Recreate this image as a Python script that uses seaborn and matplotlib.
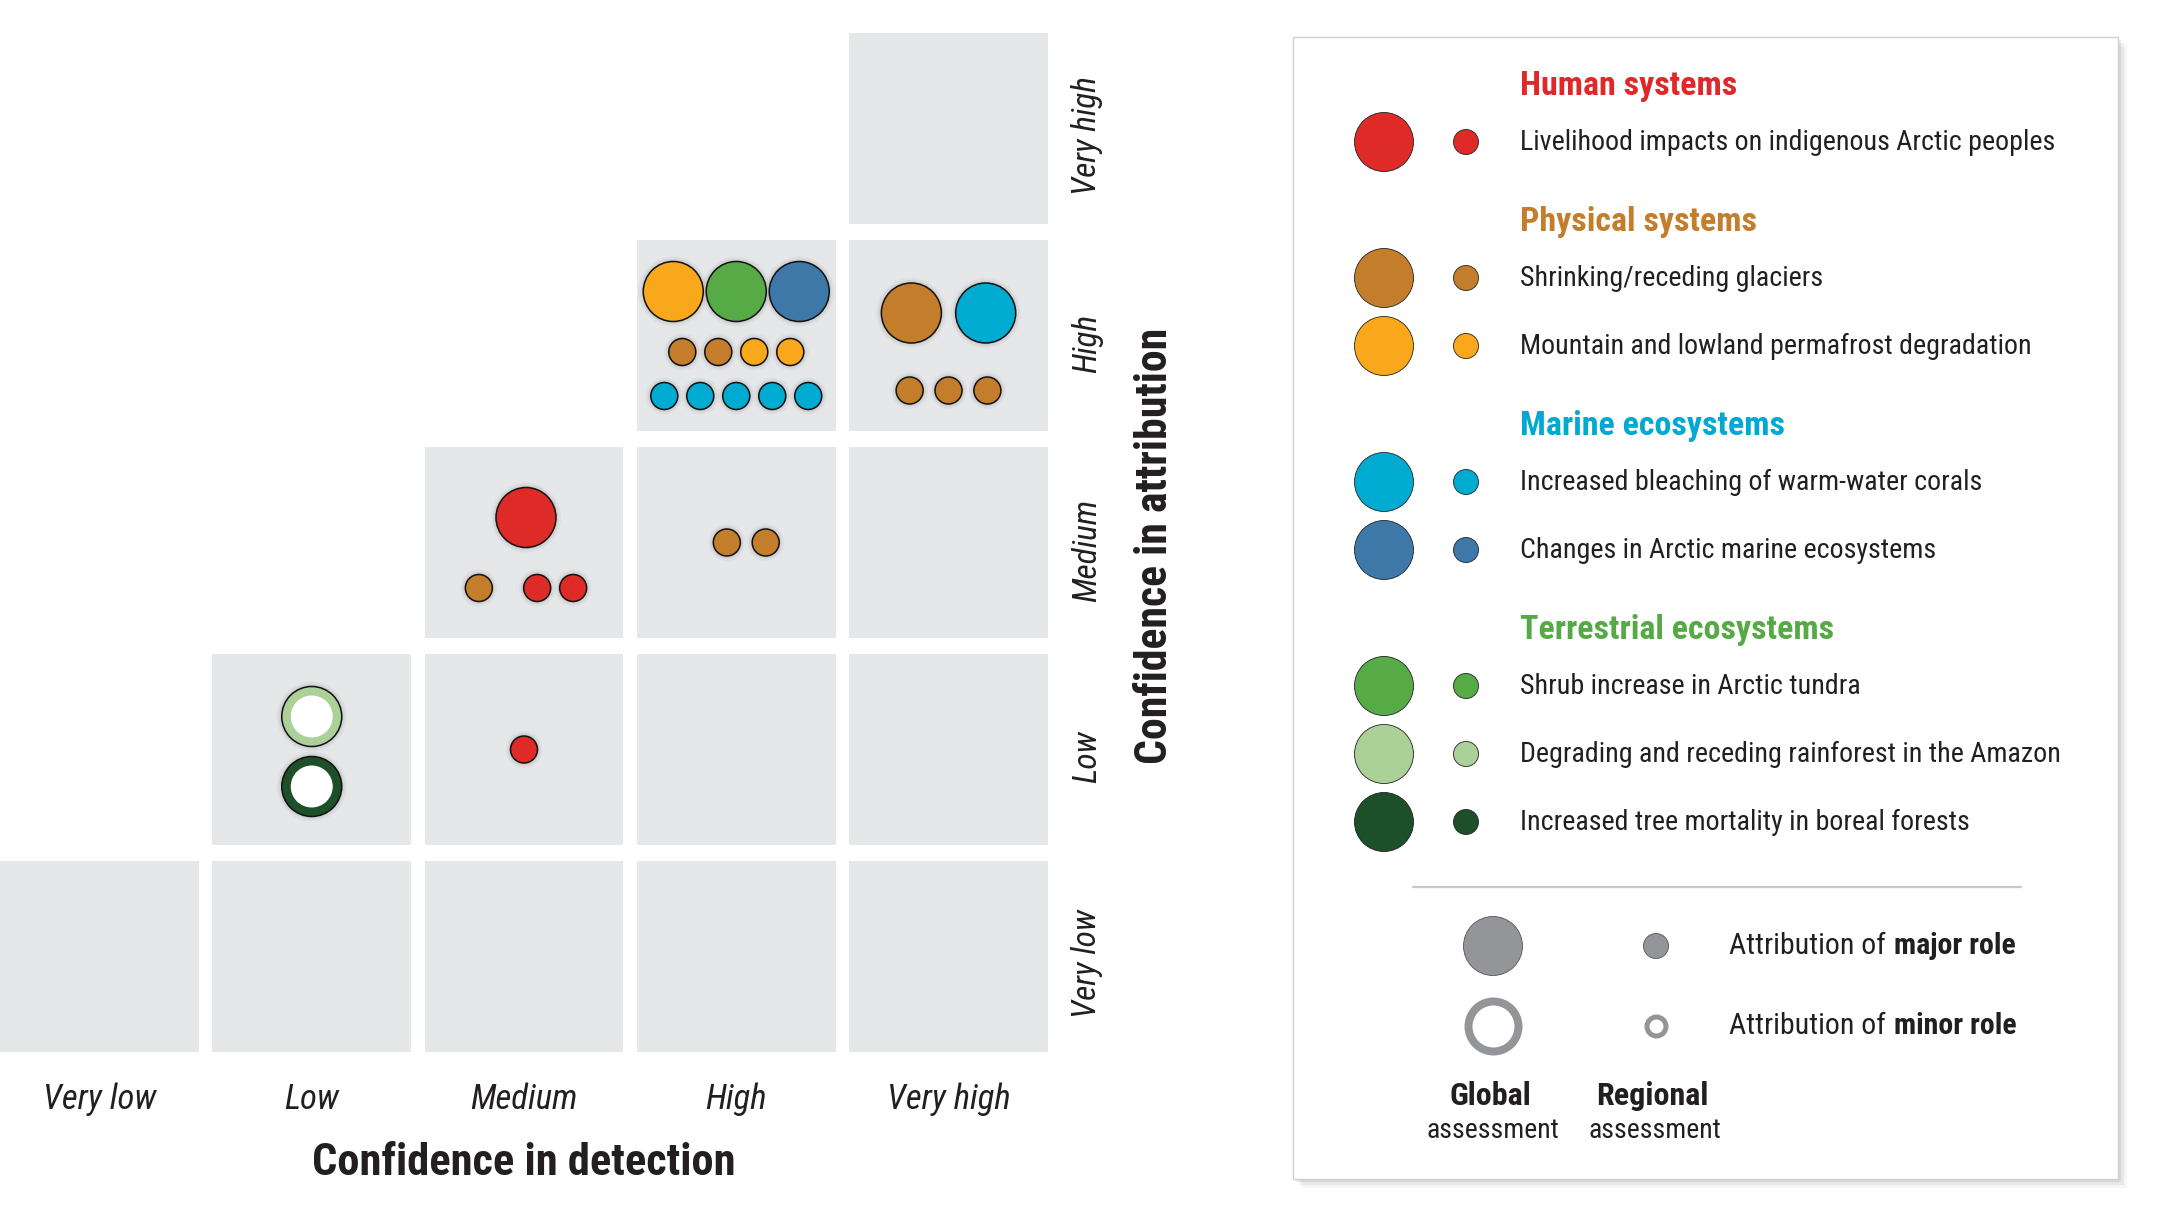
import numpy as np
import pandas as pd
import matplotlib
matplotlib.use("Agg")
import matplotlib.pyplot as plt
import seaborn as sns
from matplotlib.patches import Rectangle
from matplotlib.transforms import ScaledTranslation
from matplotlib import font_manager as fm

# ---------------- data ----------------
levels = ["Very low", "Low", "Medium", "High", "Very high"]

systems = [
    "Livelihood impacts on indigenous Arctic peoples",
    "Shrinking/receding glaciers",
    "Mountain and lowland permafrost degradation",
    "Increased bleaching of warm-water corals",
    "Changes in Arctic marine ecosystems",
    "Shrub increase in Arctic tundra",
    "Degrading and receding rainforest in the Amazon",
    "Increased tree mortality in boreal forests",
]
system_groups = [
    "Human systems", "Physical systems", "Physical systems",
    "Marine ecosystems", "Marine ecosystems",
    "Terrestrial ecosystems", "Terrestrial ecosystems", "Terrestrial ecosystems",
]
group_names = ["Human systems", "Physical systems", "Marine ecosystems", "Terrestrial ecosystems"]
group_colors = ["#E0282B", "#C47D2A", "#00A9D1", "#56AA46"]
system_colors = ["#DE2B27", "#C47D2A", "#F9A81C", "#00ABD2",
                 "#3E78A8", "#57AB46", "#ABD098", "#1D4F28"]

LV, GL, PF, CO, AM, SR, AZ, BO = systems

# one entry per circle
item_system = [PF, SR, AM, GL, GL, PF, PF, CO, CO, CO, CO, CO,
               GL, CO, GL, GL, GL,
               LV, GL, LV, LV,
               GL, GL,
               LV,
               AZ, BO]
item_detection = ["High"] * 12 + ["Very high"] * 5 + ["Medium"] * 4 + ["High"] * 2 + ["Medium"] + ["Low"] * 2
item_attribution = ["High"] * 12 + ["High"] * 5 + ["Medium"] * 4 + ["Medium"] * 2 + ["Low"] + ["Low"] * 2
item_scale = (["Global"] * 3 + ["Regional"] * 9 + ["Global"] * 2 + ["Regional"] * 3 +
              ["Global"] + ["Regional"] * 3 + ["Regional"] * 2 + ["Regional"] + ["Global"] * 2)
item_role = ["Major"] * 24 + ["Minor"] * 2
# arrangement inside a cell: row index and slot index within the row
item_row = [0, 0, 0, 1, 1, 1, 1, 2, 2, 2, 2, 2,
            0, 0, 1, 1, 1,
            0, 1, 1, 1,
            0, 0,
            0,
            0, 1]
item_slot = [0, 1, 2, 0, 1, 2, 3, 0, 1, 2, 3, 4,
             0, 1.18, 0, 1.08, 2.16,
             0, 0, 1.62, 2.62,
             0, 1.08,
             0,
             0, 0]

df = pd.DataFrame(dict(system=item_system, detection=item_detection,
                       attribution=item_attribution, scale=item_scale,
                       role=item_role, row=item_row, slot=item_slot))

# ---------------- style / layout constants ----------------
W, H = 2157, 1218
PX_X, PX_Y = 212.3, 207.0            # pixels per category unit
DIAM = {"Global": 60, "Regional": 27}
STEP = {"Global": 63, "Regional": 36}
ROW_GAP = {("Very high", "High"): 34, ("Medium", "Medium"): 27, ("Low", "Low"): 10}
CELL_SHIFT = {("Very high", "High"): (0, 8), ("High", "Medium"): (10, 0),
              ("Medium", "Medium"): (2, 2), ("Low", "Low"): (0, 2)}
PT = 0.72                              # points per pixel at dpi 100

def s_of(d_px):
    return (d_px * PT) ** 2

# compute positions within cells
xs = np.zeros(len(df)); ys = np.zeros(len(df))
for (d, a), g in df.groupby(["detection", "attribution"]):
    gap = ROW_GAP.get((d, a), 17)
    sx, sy = CELL_SHIFT.get((d, a), (0, 0))
    rows = sorted(g["row"].unique())
    heights = [max(DIAM[s] for s in g[g["row"] == r]["scale"]) for r in rows]
    total = sum(heights) + gap * (len(rows) - 1)
    top = -total / 2
    for r, h in zip(rows, heights):
        gr = g[g["row"] == r]
        yc = top + h / 2 + sy
        mid = (gr["slot"].min() + gr["slot"].max()) / 2
        for idx, rr in gr.iterrows():
            xoff = (rr["slot"] - mid) * STEP[rr["scale"]] + sx
            xs[idx] = levels.index(d) + xoff / PX_X
            ys[idx] = levels.index(a) - yc / PX_Y
        top += h + gap
df["x"] = xs
df["y"] = ys

# ---------------- fonts ----------------
sns.set_theme(style="white")
avail = {f.name for f in fm.fontManager.ttflist}
if "Roboto Condensed" in avail:
    FONT, FS = "Roboto Condensed", 1.0
elif "Liberation Sans Narrow" in avail:
    FONT, FS = "Liberation Sans Narrow", 1.0
else:
    FONT, FS = "Liberation Sans", 0.86
plt.rcParams["font.family"] = [FONT, "DejaVu Sans"]
TXT = "#231F20"

fig = plt.figure(figsize=(W / 100, H / 100), dpi=100)
fig.patch.set_facecolor("white")

# ---------------- main matrix ----------------
AX_TOP, AX_BOT = 33, 1052
ax = fig.add_axes([0, (H - AX_BOT) / H, 1048 / W, (AX_BOT - AX_TOP) / H])
cw, ch = 199 / PX_X, 191 / PX_Y
ax.set_xlim(-cw / 2, 4 + cw / 2)
ax.set_ylim(-ch / 2, 4 + ch / 2)
for d in range(5):
    for a in range(5):
        if d >= a:
            ax.add_patch(Rectangle((d - cw / 2, a - ch / 2), cw, ch,
                                   facecolor="#E6E7E8", edgecolor="none", zorder=0))

pal = dict(zip(systems, system_colors))
# soft glow
for extra, al in [(10, 0.05), (6, 0.07), (3, 0.08)]:
    sns.scatterplot(data=df, x="x", y="y", size="scale",
                    sizes={k: s_of(v + extra) for k, v in DIAM.items()},
                    color="#555555", alpha=al, linewidth=0, legend=False, ax=ax, zorder=1)
sns.scatterplot(data=df, x="x", y="y", hue="system", palette=pal, size="scale",
                sizes={k: s_of(v) for k, v in DIAM.items()},
                edgecolor="#111111", linewidth=1.1, alpha=1, legend=False, ax=ax, zorder=2)
minor = df[df["role"] == "Minor"]
sns.scatterplot(data=minor, x="x", y="y", size="scale",
                sizes={"Global": s_of(42), "Regional": s_of(12)},
                color="white", linewidth=0, alpha=1, legend=False, ax=ax, zorder=3)

for sp in ax.spines.values():
    sp.set_visible(False)
ax.set_xticks(range(5), levels)
ax.yaxis.tick_right()
ax.set_yticks(range(5), levels)
ax.tick_params(axis="x", length=0, pad=34, labelsize=25 * FS, colors=TXT)
ax.tick_params(axis="y", length=0, pad=28, labelsize=24 * FS, colors=TXT, labelrotation=90)
for lab in ax.get_xticklabels():
    lab.set_fontstyle("italic"); lab.set_va("center")
shift_down = ScaledTranslation(0, -7.5 / 100, fig.dpi_scale_trans)
for tk in ax.yaxis.get_major_ticks():
    lab = tk.label2
    lab.set_fontstyle("italic"); lab.set_ha("center"); lab.set_va("center")
    lab.set_transform(lab.get_transform() + shift_down)
AXH = AX_BOT - AX_TOP
ax.set_xlabel("Confidence in detection", fontsize=32 * FS, fontweight="bold", color=TXT)
ax.xaxis.set_label_coords(0.5, -(1163 - AX_BOT) / AXH)
ax.xaxis.label.set_va("center")
ax.yaxis.set_label_position("right")
ax.set_ylabel("Confidence in attribution", fontsize=31.5 * FS, fontweight="bold",
              color=TXT, rotation=90)
ax.yaxis.set_label_coords(1155 / 1048, (AX_BOT - 546) / AXH)
ax.yaxis.label.set_va("center"); ax.yaxis.label.set_ha("center")
ax.grid(False)

# ---------------- legend panel ----------------
lax = fig.add_axes([0, 0, 1, 1])
lax.set_xlim(0, W); lax.set_ylim(H, 0)
lax.axis("off")
lax.patch.set_alpha(0)
bx0, by0, bx1, by1 = 1293, 37, 2118, 1179
for k, al in [(9, 0.04), (6, 0.05), (3, 0.07)]:
    lax.add_patch(Rectangle((bx0 + k, by0 + k), bx1 - bx0, by1 - by0,
                            facecolor="black", alpha=al, edgecolor="none", zorder=0))
lax.add_patch(Rectangle((bx0, by0), bx1 - bx0, by1 - by0, facecolor="white",
                        edgecolor="#D0D0D0", linewidth=1, zorder=1))

BIGX, SMX, TX = 1384, 1466, 1520
leg_rows = []
y = 86
for gname, gcol in zip(group_names, group_colors):
    lax.text(TX, y, gname, color=gcol, fontsize=24.5 * FS, fontweight="bold",
             va="center", ha="left", zorder=3)
    y += 56
    for sname, sg in zip(systems, system_groups):
        if sg == gname:
            leg_rows.append((sname, y))
            lax.text(TX, y, sname, color=TXT, fontsize=20.2 * FS, va="center", ha="left", zorder=3)
            y += 68
    y += 12
ldf = pd.DataFrame({
    "system": [r[0] for r in leg_rows] * 2,
    "y": [r[1] for r in leg_rows] * 2,
    "x": [BIGX] * len(leg_rows) + [SMX] * len(leg_rows),
    "scale": ["Global"] * len(leg_rows) + ["Regional"] * len(leg_rows),
})
sns.scatterplot(data=ldf, x="x", y="y", hue="system", palette=pal, size="scale",
                sizes={"Global": s_of(59), "Regional": s_of(25)},
                edgecolor="#222222", linewidth=0.6, legend=False, ax=lax, zorder=4)

lax.plot([1413, 2021], [887, 887], color="#C8C8C8", linewidth=1.6, zorder=3)

GX, RX = 1493, 1656
maj = pd.DataFrame({"x": [GX, RX], "y": [946, 946], "scale": ["Global", "Regional"]})
sns.scatterplot(data=maj, x="x", y="y", size="scale",
                sizes={"Global": s_of(59), "Regional": s_of(25)},
                color="#939598", edgecolor="#555555", linewidth=0.6, legend=False, ax=lax, zorder=4)
lax.scatter([GX], [1026], s=s_of(50), facecolor="white", edgecolor="#939598",
            linewidth=8 * PT, zorder=4)
lax.scatter([RX], [1026], s=s_of(19), facecolor="white", edgecolor="#939598",
            linewidth=5 * PT, zorder=4)

fig.canvas.draw()
rend = fig.canvas.get_renderer()
for yy, word in [(946, "major role"), (1026, "minor role")]:
    t = lax.text(1729, yy, "Attribution of", color=TXT, fontsize=21.5 * FS,
                 va="center", ha="left", zorder=3)
    bb = t.get_window_extent(renderer=rend)
    x_end = bb.x1 + 21.5 * FS * 0.26 / PT
    lax.text(x_end, yy, word, color=TXT, fontsize=21.5 * FS, fontweight="bold",
             va="center", ha="left", zorder=3)

lax.text(1490, 1096, "Global", color=TXT, fontsize=23 * FS, fontweight="bold",
         ha="center", va="center", zorder=3)
lax.text(1493, 1131, "assessment", color=TXT, fontsize=20 * FS, ha="center", va="center", zorder=3)
lax.text(1652, 1096, "Regional", color=TXT, fontsize=23 * FS, fontweight="bold",
         ha="center", va="center", zorder=3)
lax.text(1655, 1131, "assessment", color=TXT, fontsize=20 * FS, ha="center", va="center", zorder=3)

fig.savefig("out.png", dpi=100, facecolor="white")
